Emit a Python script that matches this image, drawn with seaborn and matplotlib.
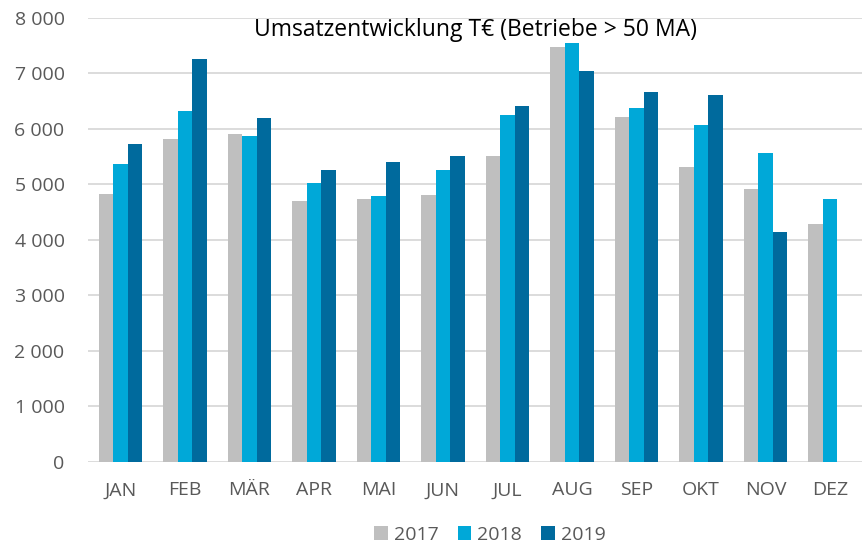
import numpy as np
import pandas as pd
import seaborn as sns
import matplotlib.pyplot as plt
from matplotlib.ticker import FuncFormatter

# monthly turnover in T€ per year
months = ["JAN", "FEB", "MÄR", "APR", "MAI", "JUN",
          "JUL", "AUG", "SEP", "OKT", "NOV", "DEZ"]
years = ["2017", "2018", "2019"]
umsatz_2017 = [4820, 5820, 5900, 4700, 4730, 4810, 5510, 7470, 6210, 5310, 4920, 4280]
umsatz_2018 = [5360, 6330, 5870, 5030, 4790, 5260, 6245, 7550, 6380, 6065, 5560, 4740]
umsatz_2019 = [5720, 7260, 6190, 5260, 5410, 5510, 6420, 7040, 6670, 6610, 4150, np.nan]
colors = ["#BFBFBF", "#00A8D8", "#006A9D"]

df = pd.DataFrame({
    "Monat": months * 3,
    "Jahr": [y for y in years for _ in months],
    "Umsatz": umsatz_2017 + umsatz_2018 + umsatz_2019,
})

sns.set_style("white")
plt.rcParams["font.family"] = ["Open Sans", "DejaVu Sans"]

fig = plt.figure(figsize=(8.64, 5.44), dpi=100)
ax = fig.add_axes([0.102, 0.151, 0.896, 0.816])

sns.barplot(data=df, x="Monat", y="Umsatz", hue="Jahr", order=months,
            hue_order=years, palette=colors, width=0.675, errorbar=None,
            saturation=1, linewidth=0, ax=ax)

ax.set_ylim(0, 8000)
ax.set_xlim(-0.5, 11.5)
ax.set_yticks(range(0, 8001, 1000))
ax.yaxis.set_major_formatter(FuncFormatter(lambda v, p: f"{int(v):,}".replace(",", " ")))
ax.grid(axis="y", color="#D9D9D9", linewidth=1.3)
ax.set_axisbelow(True)
for s in ax.spines.values():
    s.set_visible(False)
ax.tick_params(axis="both", length=0, labelsize=14, colors="#595959")
ax.tick_params(axis="y", pad=17)
ax.tick_params(axis="x", pad=14)
ax.set_xlabel("")
ax.set_ylabel("")

ax.text(0.5, 0.972, "Umsatzentwicklung T€ (Betriebe > 50 MA)", transform=ax.transAxes,
        ha="center", va="center", fontsize=16.5, color="black")

ax.legend(loc="lower center", bbox_to_anchor=(0.567, -0.032), bbox_transform=fig.transFigure,
          ncol=3, frameon=False, fontsize=14, handlelength=0.7, handleheight=0.7,
          handletextpad=0.3, columnspacing=1.0, labelcolor="#595959")

fig.savefig("out.png", dpi=100)
